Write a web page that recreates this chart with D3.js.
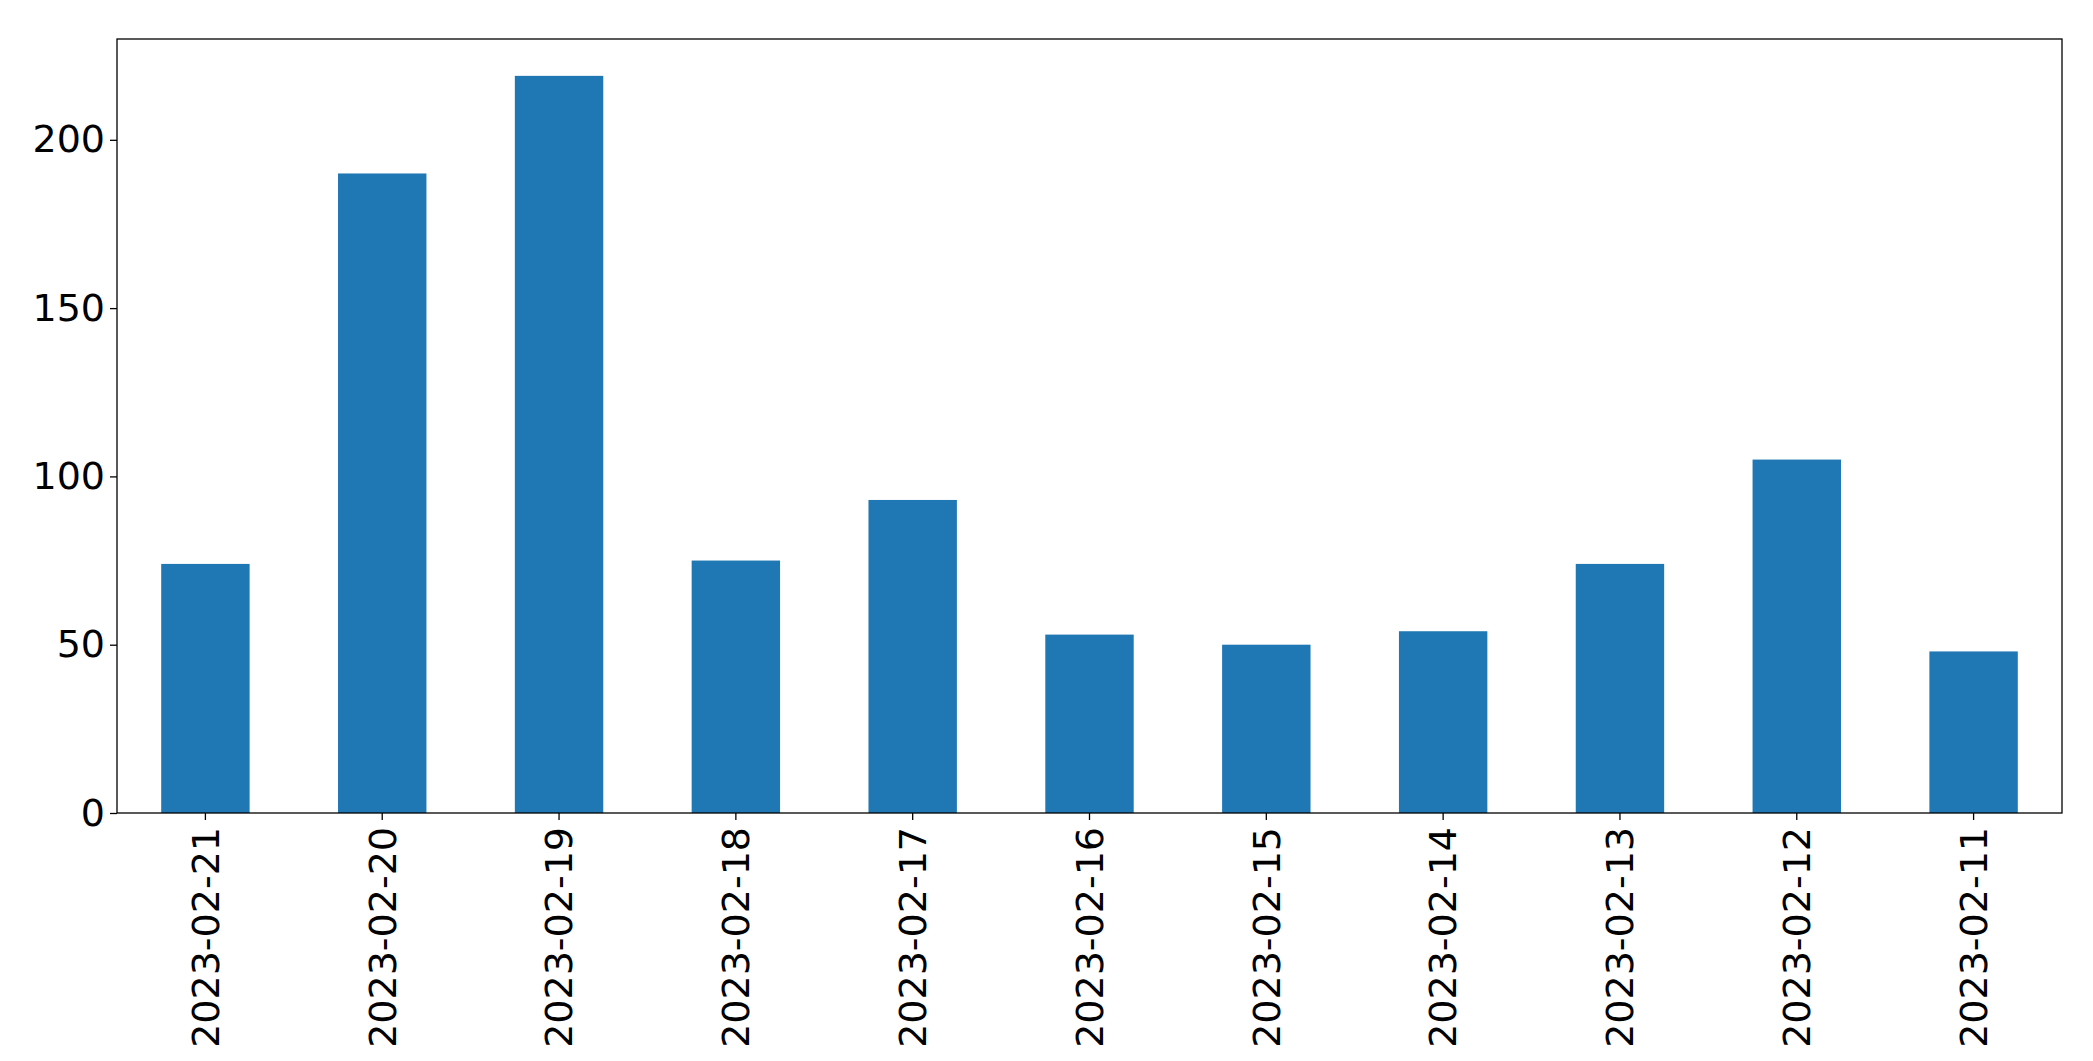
<!DOCTYPE html>
<html>
<head>
<meta charset="utf-8">
<script src="https://cdn.jsdelivr.net/npm/d3@7"></script>
<style>
  body { margin: 0; background: #fff; }
  text { font-family: "DejaVu Sans", sans-serif; }
</style>
</head>
<body>
<div id="chart"></div>
<script>
var DATES = ["2023-02-21","2023-02-20","2023-02-19","2023-02-18","2023-02-17","2023-02-16",
             "2023-02-15","2023-02-14","2023-02-13","2023-02-12","2023-02-11"];
var COUNTS = [74, 190, 219, 75, 93, 53, 50, 54, 74, 105, 48];
var Y_TICKS = [0, 50, 100, 150, 200];

var W = 2093, H = 1061;
var margin = {top: 39, right: 31, bottom: 248, left: 117};
var width = W - margin.left - margin.right,
    height = H - margin.top - margin.bottom;

var svg = d3.select("#chart").append("svg")
    .attr("width", W).attr("height", H)
  .append("g")
    .attr("transform", "translate(" + margin.left + "," + margin.top + ")");

var x = d3.scaleBand().domain(DATES).range([0, width]).paddingInner(0.5).paddingOuter(0.25);
var y = d3.scaleLinear().domain([0, d3.max(COUNTS) * 1.05]).range([height, 0]);

svg.selectAll("rect.bar")
  .data(COUNTS)
  .enter().append("rect")
    .attr("class", "bar")
    .attr("x", function(d, i) { return x(DATES[i]); })
    .attr("y", function(d) { return y(d); })
    .attr("width", x.bandwidth())
    .attr("height", function(d) { return height - y(d); })
    .style("fill", "#1f77b4");

var xAxis = svg.append("g")
    .attr("transform", "translate(0," + height + ")")
    .call(d3.axisBottom(x).tickSize(7).tickSizeOuter(0));
xAxis.selectAll("text")
    .style("font-size", "38px")
    .attr("transform", "rotate(-90)")
    .attr("x", -14).attr("y", 0).attr("dy", "0.35em")
    .style("text-anchor", "end");

var yAxis = svg.append("g")
    .call(d3.axisLeft(y).tickValues(Y_TICKS).tickSize(7).tickSizeOuter(0));
yAxis.selectAll("text").style("font-size", "38px").attr("x", -12);

svg.selectAll(".domain").remove();
svg.selectAll(".tick line").attr("stroke", "#000").attr("stroke-width", 1.3);
svg.append("rect")
    .attr("width", width).attr("height", height)
    .attr("fill", "none").attr("stroke", "#000").attr("stroke-width", 1.3);
</script>
</body>
</html>
